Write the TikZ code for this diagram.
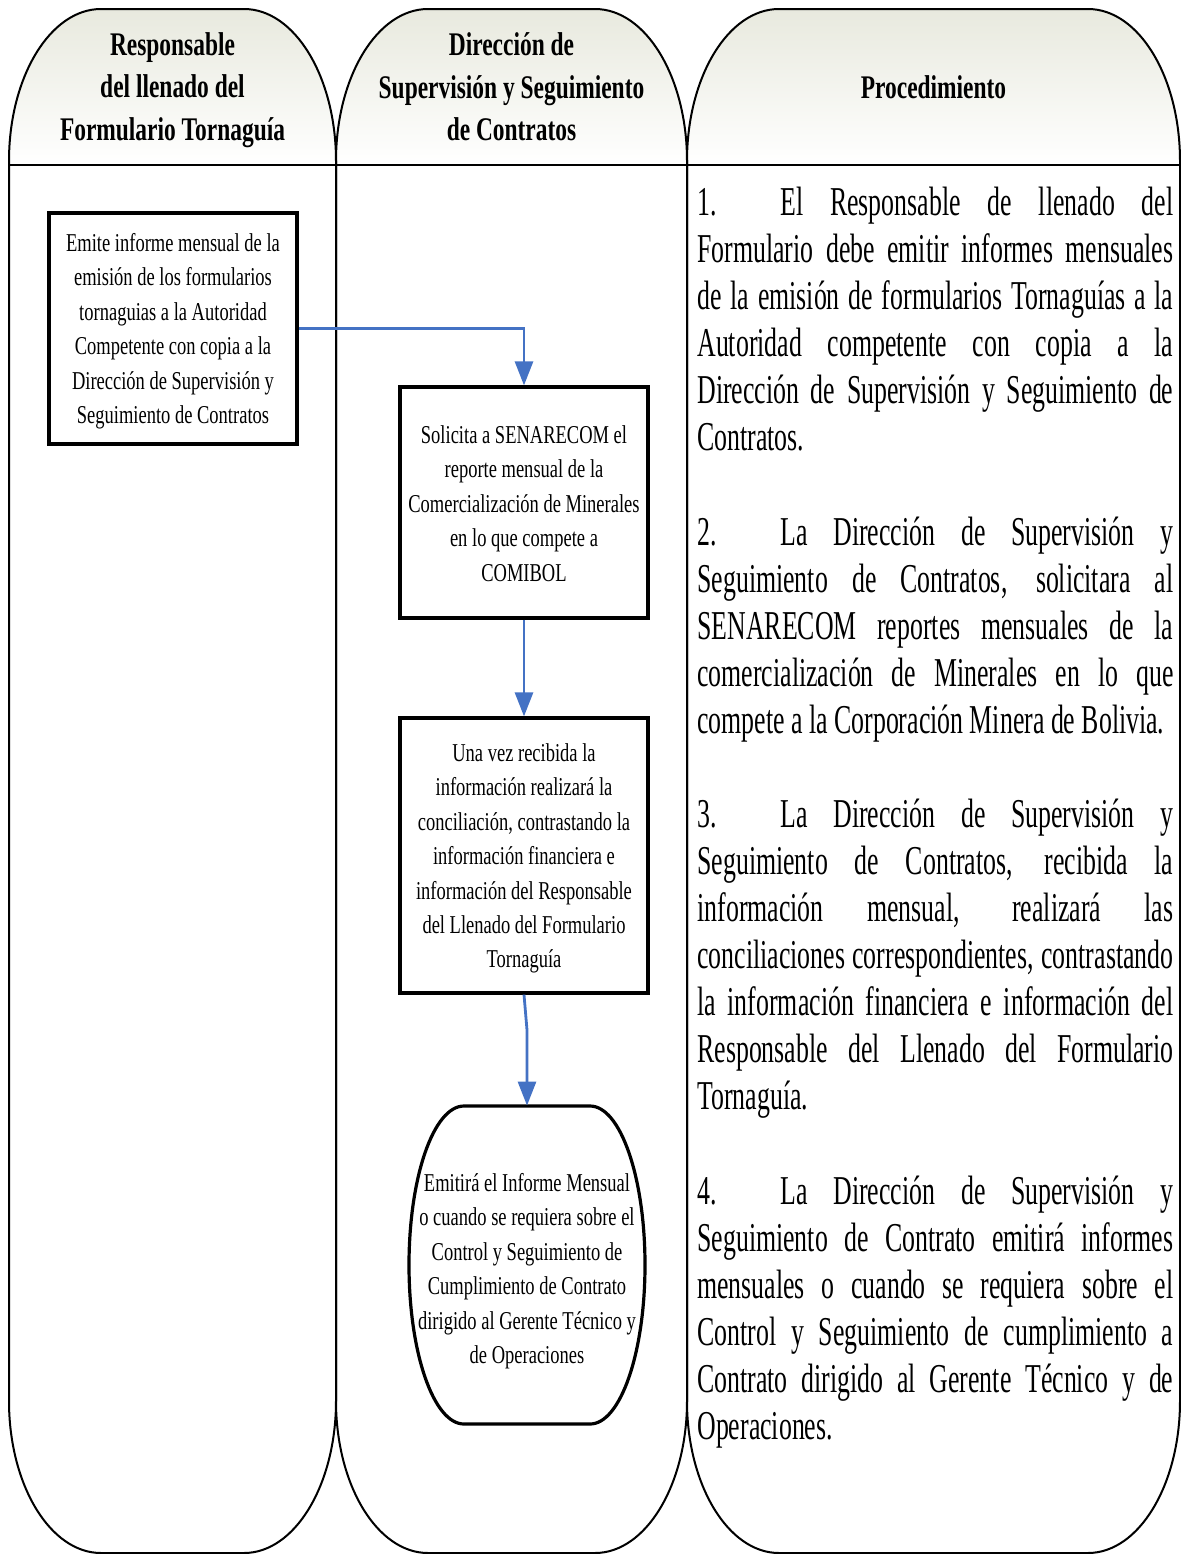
\documentclass[tikz,border=0pt]{standalone}
\usepackage{fontspec}
\setmainfont{Liberation Serif}
\newfontfamily\boxfont[FakeStretch=0.72]{Liberation Serif}
\newfontfamily\bodyfont[FakeStretch=0.63]{Liberation Serif}
\newfontfamily\headfont[FakeStretch=0.71]{Liberation Serif}
\usetikzlibrary{arrows.meta,calc}
\definecolor{flowblue}{RGB}{68,114,196}
\definecolor{hdrtop}{RGB}{232,233,222}
\newlength{\procW}\setlength{\procW}{238pt}
\newcommand{\rs}{\spaceskip=0pt\xspaceskip=0pt\relax}
\newcommand{\jline}[1]{{\rs\makebox[\procW][s]{#1}}}
\newcommand{\jtab}[2]{{\rs\makebox[\procW][s]{\makebox[41.5pt][l]{#1}#2}}}
\newcommand{\nline}[1]{{\rs\makebox[\procW][l]{#1}}}
% lane outline: #1 left x, #2 right x
\newcommand{\lanepath}[2]{(#1,161) .. controls (#1,77.05) and ({#1+41.2},9) .. ({#1+92},9)
 -- ({#2-92},9) .. controls ({#2-41.2},9) and (#2,77.05) .. (#2,161)
 -- (#2,1401) .. controls (#2,1484.95) and ({#2-41.2},1553) .. ({#2-92},1553)
 -- ({#1+92},1553) .. controls ({#1+41.2},1553) and (#1,1484.95) .. (#1,1401) -- cycle}
\newcommand{\hdrpath}[2]{(#1,165) -- (#1,161) .. controls (#1,77.05) and ({#1+41.2},9) .. ({#1+92},9)
 -- ({#2-92},9) .. controls ({#2-41.2},9) and (#2,77.05) .. (#2,161) -- (#2,165) -- cycle}
\tikzset{
 lane/.style={draw=black, line width=1pt},
 hdrshade/.style={top color=hdrtop, bottom color=white, draw=none},
 pbox/.style={draw=black, line width=1.6pt, align=flush center, inner sep=0pt, text width=124pt,
   font=\boxfont\fontsize{12.85pt}{17.2pt}\selectfont},
 termtext/.style={align=flush center, inner sep=0pt, text width=118pt,
   font=\boxfont\fontsize{12.85pt}{17.2pt}\selectfont},
 termshape/.style={draw=black, line width=1.6pt},
 flow/.style={draw=flowblue, line width=1.4pt, -{Triangle[length=12pt,width=9pt]}},
 hdrtext/.style={align=center, inner sep=0pt,
   font=\headfont\bfseries\fontsize{16.5pt}{21.25pt}\selectfont},
 proc/.style={anchor=base west, inner sep=0pt, text width=\procW,
   font=\bodyfont\fontsize{20.5pt}{23.5pt}\selectfont}
}
\begin{document}
\begin{tikzpicture}[x=0.5pt,y=-0.5pt]
\useasboundingbox (0,0) rectangle (1181,1554);
% header shading
\fill[hdrshade] \hdrpath{9}{336};
\fill[hdrshade] \hdrpath{336}{687};
\fill[hdrshade] \hdrpath{687}{1180};
% lanes
\draw[lane] \lanepath{9}{336};
\draw[lane] \lanepath{336}{687};
\draw[lane] \lanepath{687}{1180};
\draw[lane] (9,165) -- (1180,165);
% header texts
\node[hdrtext] (h1) at (172.5,90) {Responsable\\del llenado del\\Formulario Tornaguía};
\node[hdrtext] (h2) at (511.5,87) {Dirección de\\Supervisión y Seguimiento\\de Contratos};
\node[hdrtext] (h3) at (933.5,87) {Procedimiento};
% process boxes
\node[pbox, minimum height=115.5pt, text height=19.25pt, text depth=96.25pt] (b1) at (173,328.5)
 {\rs Emite informe mensual de la\\emisión de los formularios\\tornaguias a la Autoridad\\Competente con copia a la\\Dirección de Supervisión y\\Seguimiento de Contratos};
\node[pbox, minimum height=115.5pt, text height=28.25pt, text depth=87.25pt] (b2) at (524,502.5)
 {\rs Solicita a SENARECOM el\\reporte mensual de la\\Comercialización de Minerales\\en lo que compete a\\COMIBOL};
\node[pbox, minimum height=137.5pt, text height=21.75pt, text depth=115.75pt] (b3) at (524,855.5)
 {\rs Una vez recibida la\\información realizará la\\conciliación, contrastando la\\información financiera e\\información del Responsable\\del Llenado del Formulario\\Tornaguía};
% terminal
\draw[termshape] (409,1265) .. controls (409,1177.2) and (433.6,1106) .. (464,1106)
 -- (590,1106) .. controls (620.4,1106) and (645,1177.2) .. (645,1265)
 .. controls (645,1352.8) and (620.4,1424) .. (590,1424)
 -- (464,1424) .. controls (433.6,1424) and (409,1352.8) .. (409,1265) -- cycle;
\node[termtext, minimum height=159pt, text height=42.75pt, text depth=116.25pt] (t4) at (527,1265)
 {\rs Emitirá el Informe Mensual\\o cuando se requiera sobre el\\Control y Seguimiento de\\Cumplimiento de Contrato\\dirigido al Gerente Técnico y\\de Operaciones};
% connectors
\draw[flow] (b1.east) -| (b2.north);
\draw[flow] (b2.south) -- (b3.north);
\coordinate (k3) at (527,1030);
\draw[flow] (b3.south) -- (k3) -- (t4.north);
% procedure text
\node[proc] (p1) at (697,215) {\noindent\jtab{1.}{El Responsable de llenado del}\\
\jline{Formulario debe emitir informes mensuales}\\
\jline{de la emisión de formularios Tornaguías a la}\\
\jline{Autoridad competente con copia a la}\\
\jline{Dirección de Supervisión y Seguimiento de}\\
\nline{Contratos.}};
\node[proc] (p2) at (697,545) {\noindent\jtab{2.}{La Dirección de Supervisión y}\\
\jline{Seguimiento de Contratos, solicitara al}\\
\jline{SENARECOM reportes mensuales de la}\\
\jline{comercialización de Minerales en lo que}\\
\nline{compete a la Corporación Minera de Bolivia.}};
\node[proc] (p3) at (697,827) {\noindent\jtab{3.}{La Dirección de Supervisión y}\\
\jline{Seguimiento de Contratos, recibida la}\\
\jline{información mensual, realizará las}\\
\jline{conciliaciones correspondientes, contrastando}\\
\jline{la información financiera e información del}\\
\jline{Responsable del Llenado del Formulario}\\
\nline{Tornaguía.}};
\node[proc] (p4) at (697,1204) {\noindent\jtab{4.}{La Dirección de Supervisión y}\\
\jline{Seguimiento de Contrato emitirá informes}\\
\jline{mensuales o cuando se requiera sobre el}\\
\jline{Control y Seguimiento de cumplimiento a}\\
\jline{Contrato dirigido al Gerente Técnico y de}\\
\nline{Operaciones.}};
\end{tikzpicture}
\end{document}
